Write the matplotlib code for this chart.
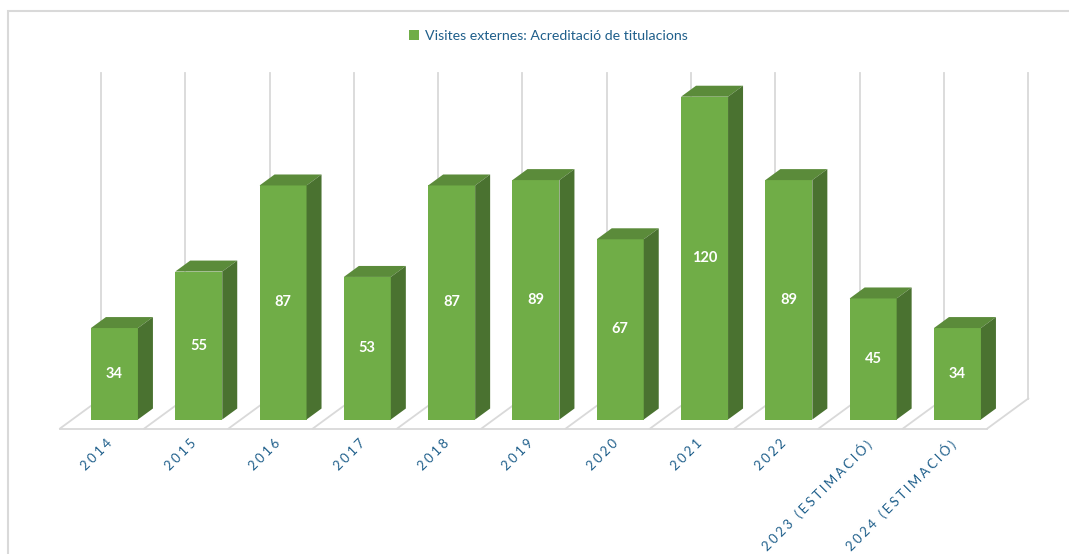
import matplotlib
matplotlib.use('Agg')
import matplotlib.pyplot as plt
from matplotlib.patches import Polygon, Rectangle, Patch

# data
years = ['2014', '2015', '2016', '2017', '2018', '2019', '2020', '2021', '2022',
         '2023 (ESTIMACIÓ)', '2024 (ESTIMACIÓ)']
visits = [34, 55, 87, 53, 87, 89, 67, 120, 89, 45, 34]
series_name = 'Visites externes: Acreditació de titulacions'

FRONT = '#70AD47'
TOP = '#5B8B3A'
SIDE = '#4A7230'
GRID = '#D9D9D9'
TXT = '#1F5F8B'
FONT = ['Lato', 'DejaVu Sans']

# oblique "3D" projection: depth vector in (category, value) units
DX, DY = 0.486, 11.15
F1, F2 = 0.30, 0.666       # bar front / back depth fractions
W = 0.5575                 # bar width in categories
WALL = 121                 # height of the back wall gridlines

fig = plt.figure(figsize=(10.69, 5.54), dpi=100)
ax = fig.add_axes([0, 0, 1, 1])
ax.set_xlim(-1.2117, 11.469)
ax.set_ylim(-46.65, 159.29)
ax.axis('off')

n = len(visits)
# floor: front edge + diagonals, back wall gridlines
ax.plot([-0.5, n - 0.5], [0, 0], color=GRID, lw=1.3, zorder=1)
for k in range(n + 1):
    x0 = k - 0.5
    ax.plot([x0, x0 + DX], [0, DY], color=GRID, lw=1.3, zorder=1)
    ax.plot([x0 + DX, x0 + DX], [DY, DY + WALL], color=GRID, lw=1.3, zorder=1)

for i, v in enumerate(visits):
    xl = i - W / 2 + F1 * DX
    xr = xl + W
    d = F2 - F1
    yb, yt = F1 * DY, v + F1 * DY
    front = Rectangle((xl, yb), W, v, facecolor=FRONT, edgecolor='none', zorder=3)
    top = Polygon([(xl, yt), (xr, yt), (xr + d * DX, yt + d * DY), (xl + d * DX, yt + d * DY)],
                  closed=True, facecolor=TOP, edgecolor='none', zorder=3)
    side = Polygon([(xr, yb), (xr + d * DX, yb + d * DY), (xr + d * DX, yt + d * DY), (xr, yt)],
                   closed=True, facecolor=SIDE, edgecolor='none', zorder=3)
    for p in (front, top, side):
        ax.add_patch(p)
    ax.text(xl + W / 2, yb + v / 2, str(v), color='white', fontsize=10.5, fontweight='bold',
            family=FONT, ha='center', va='center', zorder=4)
    # spaced-out category labels, Excel style
    label = '\u2009\u200a'.join(years[i])
    ax.text(i + 0.04, -3.2, label, rotation=45, rotation_mode='anchor', ha='right', va='top',
            color=TXT, fontsize=9.5, family=FONT)

# chart border
fig.patches.append(Rectangle((7.5 / 1069, -0.1), 1.2, (554 - 10.5) / 554 + 0.1,
                             transform=fig.transFigure, fill=False, edgecolor=GRID, lw=1.5))

fig.legend(handles=[Patch(facecolor=FRONT, edgecolor='none', label=series_name)],
           loc='center', bbox_to_anchor=(0.513, 0.935), frameon=False,
           handlelength=0.7, handleheight=0.7, handletextpad=0.4,
           prop={'family': FONT, 'size': 10.2}, labelcolor=TXT)

fig.savefig('out.png', dpi=100)
